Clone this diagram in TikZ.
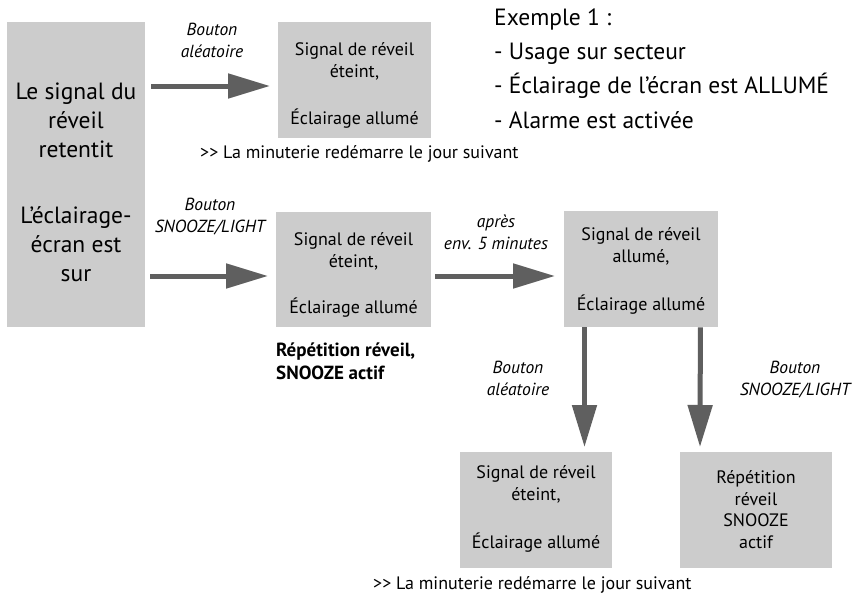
\documentclass[tikz,border=0pt]{standalone}
\usepackage{fontspec}
\setmainfont{PT Sans}
\usetikzlibrary{arrows.meta}
\definecolor{boxgray}{HTML}{CCCCCC}
\definecolor{arrgray}{HTML}{5F5F5F}
\tikzset{
  box/.style={fill=boxgray, draw=none, inner sep=0pt, anchor=north west},
  arr/.style={draw=arrgray, line width=5pt, -{Triangle[length=42pt,width=24pt]}},
  btxt/.style={font=\fontsize{18}{21.5}\selectfont, align=center, anchor=base, inner sep=0pt},
  bigtxt/.style={font=\fontsize{23.5}{29}\selectfont, align=center, anchor=base, inner sep=0pt},
  lbl/.style={font=\itshape\fontsize{17.5}{21.5}\selectfont, align=center, anchor=base, inner sep=0pt},
  note/.style={font=\fontsize{18}{21}\selectfont, anchor=base west, inner sep=0pt},
  boldtxt/.style={font=\bfseries\fontsize{19}{23}\selectfont, align=left, anchor=base west, inner sep=0pt},
  extxt/.style={font=\fontsize{23.5}{34.3}\selectfont, align=left, anchor=base west, inner sep=0pt}
}
\begin{document}
\begin{tikzpicture}[x=1pt,y=-1pt]
\useasboundingbox[fill=white] (0,0) rectangle (855,597);
% boxes
\node[box, minimum width=138pt, minimum height=305pt] (L) at (7,22) {};
\node[box, minimum width=153pt, minimum height=116pt] (B1) at (278,22) {};
\node[box, minimum width=155pt, minimum height=115pt] (B2) at (276,212) {};
\node[box, minimum width=154pt, minimum height=116pt] (B3) at (564,211) {};
\node[box, minimum width=152pt, minimum height=116pt] (B4) at (460,452) {};
\node[box, minimum width=152pt, minimum height=116pt] (B5) at (680,452) {};
% box texts (anchor = baseline of last line)
\node[bigtxt] (Lt1) at (76,157) {Le signal du\\réveil\\retentit};
\node[bigtxt] (Lt2) at (76,281) {L’éclairage-\\écran est\\sur};
\node[btxt] (B1t) at (354.5,124) {Signal de réveil\\éteint,\\[25.5pt]Éclairage allumé};
\node[btxt] (B2t) at (353.5,313) {Signal de réveil\\éteint,\\[24.5pt]Éclairage allumé};
\node[btxt] (B3t) at (641,310) {Signal de réveil\\allumé,\\[26.5pt]Éclairage allumé};
\node[btxt] (B4t) at (536,548) {Signal de réveil\\éteint,\\[26.5pt]Éclairage allumé};
\node[btxt] (B5t) at (756,548) {Répétition\\réveil\\SNOOZE\\actif};
% labels
\node[lbl] (l1) at (212,57) {Bouton\\aléatoire};
\node[lbl] (l2) at (210,232) {Bouton\\SNOOZE/LIGHT};
\node[lbl] (l3) at (496,249) {après\\env. 5 minutes};
\node[lbl] (l4) at (518,395) {Bouton\\aléatoire};
\node[lbl] (l5) at (795,395) {Bouton\\SNOOZE/LIGHT};
\node[note] (n1) at (200,158) {>{}> La minuterie redémarre le jour suivant};
\node[note] (n2) at (373,589) {>{}> La minuterie redémarre le jour suivant};
\node[boldtxt] (bt) at (276,379) {Répétition réveil,\\SNOOZE actif};
\node[extxt] (ex) at (494,128) {Exemple 1 :\\- Usage sur secteur\\- Éclairage de l’écran est ALLUMÉ\\- Alarme est activée};
% arrows
\draw[arr] ([xshift=6pt,yshift=-64pt]L.north east) -- ([xshift=-8pt,yshift=-64pt]B1.north west);
\draw[arr] ([xshift=5pt,yshift=-254pt]L.north east) -- ([xshift=-8pt,yshift=-64pt]B2.north west);
\draw[arr] ([xshift=4pt,yshift=-64pt]B2.north east) -- ([xshift=-9pt,yshift=-65pt]B3.north west);
\draw[arr] ([xshift=20.5pt]B3.south west) -- ([xshift=124.5pt,yshift=5pt]B4.north west);
\draw[arr] ([xshift=-18pt]B3.south east) -- ([xshift=20pt,yshift=5pt]B5.north west);
\end{tikzpicture}
\end{document}
